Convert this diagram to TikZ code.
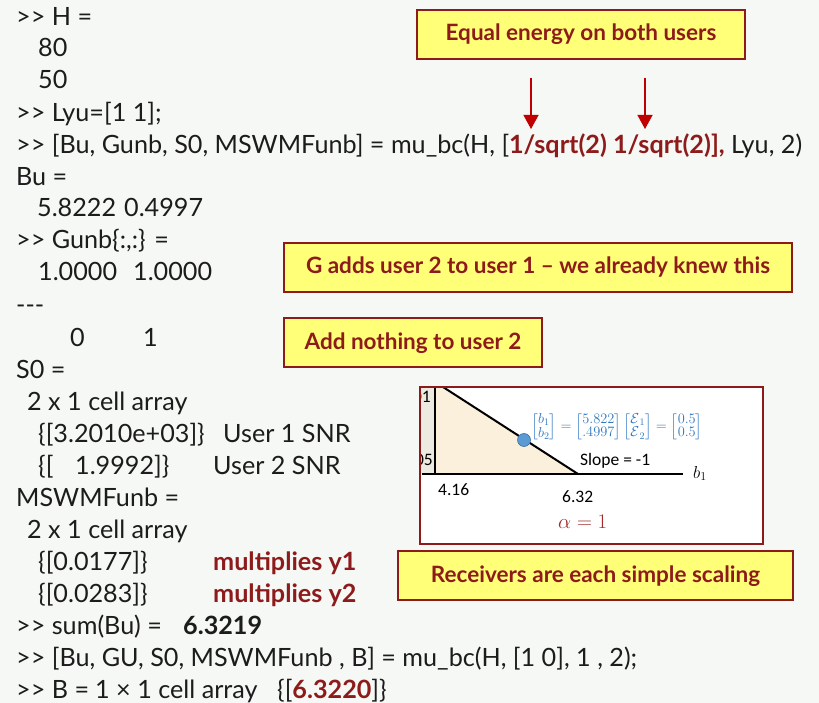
\documentclass[tikz,border=0pt]{standalone}
\usepackage{fontspec}
\usepackage{amsmath}
\setmainfont{Lato}
\newfontfamily\calib{Carlito}
\usetikzlibrary{arrows.meta}
\definecolor{bg}{HTML}{F5F8F4}
\definecolor{ink}{HTML}{1C1C1C}
\definecolor{dred}{HTML}{8E1B1B}
\definecolor{boxfill}{HTML}{FFFF78}
\definecolor{arrred}{HTML}{C00000}
\definecolor{eqblue}{HTML}{2F78C2}
\definecolor{dotblue}{HTML}{5B9BD5}
\definecolor{dotedge}{HTML}{41719C}
\definecolor{alphared}{HTML}{9E2A2B}
\definecolor{stripfill}{HTML}{EDEAE2}
\definecolor{trifill}{HTML}{FBF0DC}
\newlength\wbody
\newlength\wbox
\begin{document}
\settowidth\wbody{\fontsize{20}{24}\selectfont >{}> [Bu, Gunb, S0, MSWMFunb] = mu\_bc(H, [\textbf{1/sqrt(2) 1/sqrt(2)],} Lyu, 2)}%
\settowidth\wbox{\fontsize{20}{24}\selectfont\bfseries G adds user 2 to user 1 – we already knew this}%
\pgfmathsetmacro\fsb{20*786/\wbody}%
\pgfmathsetmacro\fsx{20*464/\wbox}%
\begin{tikzpicture}[x=1pt,y=-1pt,
  t/.style={anchor=base west, inner sep=0pt, text=ink, font=\fontsize{\fsb}{\fsb}\selectfont},
  rb/.style={t, text=dred, font=\fontsize{\fsb}{\fsb}\selectfont\bfseries},
  ybox/.style={draw=dred, fill=boxfill, line width=1.3pt, text=dred, inner sep=0pt,
     font=\fontsize{\fsx}{\fsx}\selectfont\bfseries, text height=17pt, text depth=4pt},
  redarrow/.style={draw=arrred, line width=1.3pt, -{Triangle[width=15pt,length=14pt]}},
  small/.style={anchor=base west, inner sep=0pt, font=\calib\fontsize{17.5}{20}\selectfont, text=black}]
\fill[bg] (0,0) rectangle (819,703);
\useasboundingbox (0,0) rectangle (819,703);

% console text
\node[t] (l0) at (16,26) {>{}> H =};
\node[t] (l1) at (38,57) {80};
\node[t] (l2) at (38,89) {50};
\node[t] (l3) at (16,122) {>{}> Lyu=[1 1];};
\node[t] (l4) at (16,154) {>{}> [Bu, Gunb, S0, MSWMFunb] = mu\_bc(H, [\textcolor{dred}{\textbf{1/sqrt(2) 1/sqrt(2)],}} Lyu, 2)};
\node[t] (l5) at (16,186) {Bu =};
\node[t] (l6a) at (37,217) {5.8222};
\node[t] (l6b) at (124,217) {0.4997};
\node[t] (l7) at (16,249) {>{}> Gunb\{:,:\} =};
\node[t] (l8a) at (38,281) {1.0000};
\node[t] (l8b) at (133,281) {1.0000};
\node[t] (l9) at (16,313) {-{}-{}-};
\node[t] (l10a) at (70,346) {0};
\node[t] (l10b) at (143,346) {1};
\node[t] (l11) at (16,378) {S0 =};
\node[t] (l12) at (27,410) {2 x 1 cell array};
\node[t] (l13a) at (38,442) {\{[3.2010e+03]\}};
\node[t] (l13b) at (223,442) {User 1 SNR};
\node[t] (l14a) at (38,474) {\{[};
\node[t] (l14b) at (75,474) {1.9992]\}};
\node[t] (l14c) at (213,474) {User 2 SNR};
\node[t] (l15) at (16,506) {MSWMFunb =};
\node[t] (l16) at (27,538) {2 x 1 cell array};
\node[t] (l17a) at (38,570) {\{[0.0177]\}};
\node[rb] (l17b) at (213,570) {multiplies y1};
\node[t] (l18a) at (38,602) {\{[0.0283]\}};
\node[rb] (l18b) at (213,602) {multiplies y2};
\node[t] (l19a) at (16,634) {>{}> sum(Bu) =};
\node[t, font=\fontsize{\fsb}{\fsb}\selectfont\bfseries] (l19b) at (183,634) {6.3219};
\node[t] (l20) at (16,666) {>{}> [Bu, GU, S0, MSWMFunb , B] = mu\_bc(H, [1 0], 1 , 2);};
\node[t] (l21a) at (16,698) {>{}> B =};
\node[t] (l21b) at (95,698) {1 × 1 cell array};
\node[t] (l21c) at (277,698) {\{[\textcolor{dred}{\textbf{6.3220}}]\}};

% callout boxes
\node[ybox, minimum width=328pt, minimum height=49pt] (eq) at (581,34.5) {Equal energy on both users};
\node[ybox, minimum width=508pt, minimum height=49pt] (gadds) at (538,267.5) {G adds user 2 to user 1 – we already knew this};
\node[ybox, minimum width=258pt, minimum height=49pt] (addn) at (413,342.5) {Add nothing to user 2};
\node[ybox, minimum width=395pt, minimum height=49pt] (recv) at (595.5,575.5) {Receivers are each simple scaling};

% arrows
\coordinate (a1s) at (531,78);
\coordinate (a1e) at (531,129);
\coordinate (a2s) at (645,78);
\coordinate (a2e) at (645,129);
\draw[redarrow] (a1s) -- (a1e);
\draw[redarrow] (a2s) -- (a2e);

% inset plot
\fill[white] (420,387) rectangle (763,544);
\fill[stripfill] (420,387) rectangle (435,474);
\fill[trifill] (435,387) -- (443,387) -- (578,474) -- (435,474) -- cycle;
\begin{scope}
  \clip (420,387) rectangle (435,474);
  \node[small, anchor=base east] (ylab1) at (431,402) {01};
  \node[small, anchor=base east] (ylab2) at (433,465) {05};
\end{scope}
\draw[black, line width=1.2pt] (435,387) -- (435,474);
\draw[black, line width=1.8pt] (422,474) -- (683,474);
\draw[black, line width=2pt] (443,387) -- (578,474);
\draw[dred, line width=1.4pt] (420,387) rectangle (763,544);
\node[circle, fill=dotblue, draw=dotedge, line width=0.6pt, minimum size=13pt, inner sep=0pt] (dot) at (524,440) {};
\node[inner sep=0pt, text=eqblue, font=\fontsize{14}{15}\selectfont] (eqn) at (617,427)
  {$\renewcommand\arraystretch{0.85}\begin{bmatrix}b_1\\ b_2\end{bmatrix}=\begin{bmatrix}5.822\\ .4997\end{bmatrix}\begin{bmatrix}\mathcal{E}_{\,1}\\ \mathcal{E}_{\,2}\end{bmatrix}=\begin{bmatrix}0.5\\ 0.5\end{bmatrix}$};
\node[small] (slope) at (580,465) {Slope = -1};
\node[anchor=base west, inner sep=0pt, font=\fontsize{18}{20}\selectfont] (b1) at (693,478) {$b_1$};
\node[small] (x1) at (438,495) {4.16};
\node[small] (x2) at (562,502) {6.32};
\node[anchor=base west, inner sep=0pt, text=alphared, font=\fontsize{22}{26}\selectfont] (alpha) at (558,528) {$\alpha = 1$};
\end{tikzpicture}
\end{document}
